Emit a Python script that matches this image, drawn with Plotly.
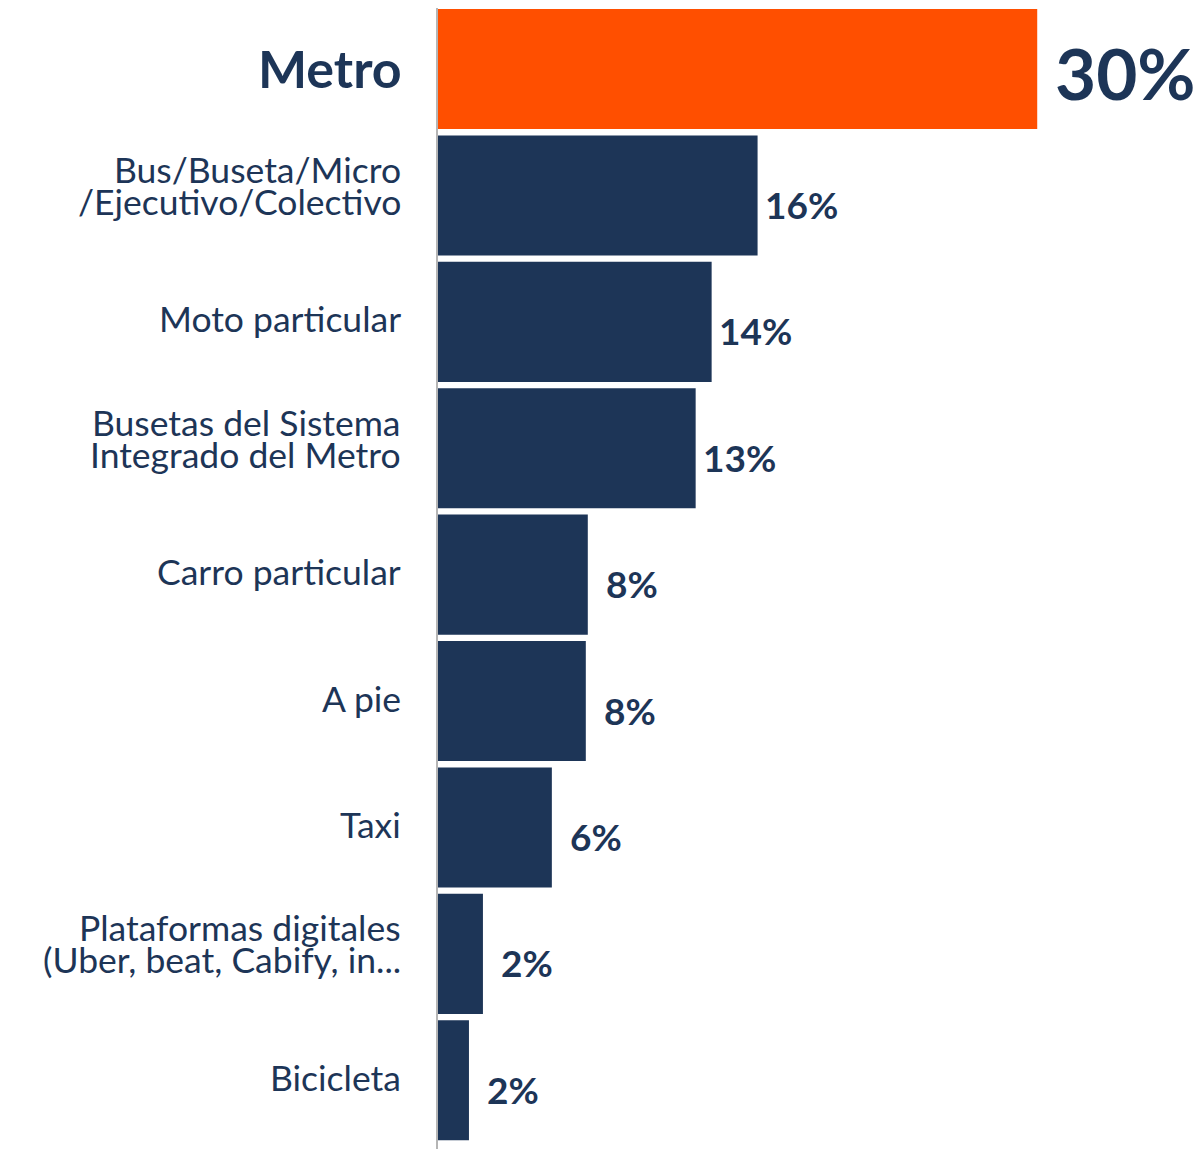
"""Modo de transporte principal — barras horizontales, Metro resaltado."""

import plotly.graph_objects as go

# Datos (porcentaje de viajes)
categories = [
    "Metro",
    "Bus/Buseta/Micro<br>/Ejecutivo/Colectivo",
    "Moto particular",
    "Busetas del Sistema<br>Integrado del Metro",
    "Carro particular",
    "A pie",
    "Taxi",
    "Plataformas digitales<br>(Uber, beat, Cabify, in...",
    "Bicicleta",
]
shares = [30.0, 16.0, 13.7, 12.9, 7.5, 7.4, 5.7, 2.25, 1.55]
share_labels = ["30%", "16%", "14%", "13%", "8%", "8%", "6%", "2%", "2%"]
highlight = "Metro"

NAVY = "#1d3557"
ORANGE = "#ff4f00"
FONT = "Lato"

idx = list(range(len(categories)))
colors = [ORANGE if c == highlight else NAVY for c in categories]

fig = go.Figure(go.Bar(
    x=shares, y=idx, orientation="h",
    marker=dict(color=colors, line=dict(width=0)),
    hoverinfo="skip",
))

# étiquettes de catégorie (à gauche), une annotation par ligne pour serrer l'interligne
for i, cat in enumerate(categories):
    if cat == highlight:
        fig.add_annotation(x=0, xref="paper", y=i, yref="y", text=f"<b>{cat}</b>",
                           xanchor="right", yanchor="middle", xshift=-34, yshift=1,
                           showarrow=False, font=dict(family=FONT, size=52, color=NAVY))
        continue
    lines = cat.split("<br>")
    shifts = [3] if len(lines) == 1 else [26, -6]
    for line, ys in zip(lines, shifts):
        fig.add_annotation(x=0, xref="paper", y=i, yref="y", text=line,
                           xanchor="right", yanchor="middle", xshift=-35, yshift=ys,
                           showarrow=False, font=dict(family=FONT, size=35.5, color=NAVY))

# étiquettes de valeur (à droite des barres)
for i, (v, lab) in enumerate(zip(shares, share_labels)):
    if categories[i] == highlight:
        fig.add_annotation(x=v, y=i, text=f"<b>{lab}</b>", xanchor="left", yanchor="middle",
                           xshift=16, yshift=-3, showarrow=False,
                           font=dict(family=FONT, size=71, color=NAVY))
    else:
        fig.add_annotation(x=v, y=i, text=f"<b>{lab}</b>", xanchor="center", yanchor="middle",
                           xshift=44, yshift=-9, showarrow=False,
                           font=dict(family=FONT, size=37, color=NAVY))

# la page ajoute 8 px de marge autour du graphique : on compense ici
fig.update_layout(
    width=1195, height=1141,
    margin=dict(l=430, r=0, t=0, b=0),
    paper_bgcolor="white", plot_bgcolor="white",
    bargap=0.05, showlegend=False,
    xaxis=dict(range=[0, 38.3], visible=False, fixedrange=True),
    yaxis=dict(range=[8.544, -0.483], showticklabels=False, ticks="",
               showgrid=False, zeroline=False, showline=True,
               linecolor="#b5b5b5", linewidth=2, fixedrange=True),
)

fig.write_html("out.html")
